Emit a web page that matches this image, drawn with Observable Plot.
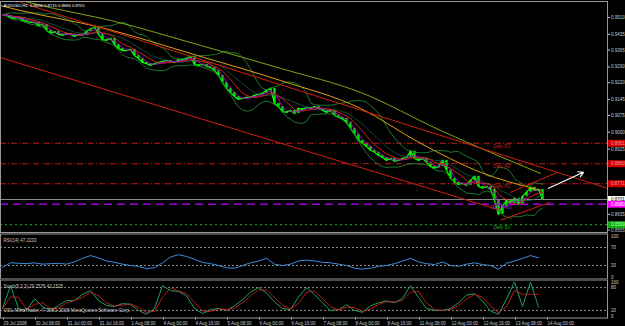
<!DOCTYPE html>
<html><head><meta charset="utf-8">
<script src="https://cdn.jsdelivr.net/npm/d3@7"></script>
<script src="https://cdn.jsdelivr.net/npm/@observablehq/plot@0.6"></script>
<style>
html,body{margin:0;padding:0;background:#000;}
#wrap{position:relative;width:625px;height:326px;background:#000;overflow:hidden;}
#wrap > div{position:absolute;left:0;}
svg{display:block;}
</style></head><body>
<div id="wrap"><div id="main" style="top:0"></div><div id="rsi" style="top:233px"></div><div id="sto" style="top:279px"></div></div>
<script>
// ---- data (H1 AUDUSD, sampled every 2 hours) ----
const title = "AUDUSD,H1  0.8696 0.8715 0.8686 0.8701";
const closes = [
0.9523,0.9519,0.9510,0.9506,0.9510,0.9497,0.9492,0.9488,0.9488,0.9475,
0.9479,0.9452,0.9439,0.9448,0.9435,0.9430,0.9439,0.9435,0.9426,0.9435,
0.9430,0.9448,0.9461,0.9466,0.9435,0.9412,0.9408,0.9417,0.9390,0.9372,
0.9363,0.9363,0.9368,0.9341,0.9328,0.9310,0.9305,0.9297,0.9305,0.9310,
0.9314,0.9319,0.9314,0.9310,0.9323,0.9319,0.9328,0.9337,0.9301,0.9297,
0.9301,0.9292,0.9288,0.9275,0.9253,0.9221,0.9195,0.9177,0.9159,0.9146,
0.9150,0.9155,0.9155,0.9164,0.9168,0.9173,0.9186,0.9195,0.9128,0.9114,
0.9092,0.9088,0.9097,0.9083,0.9106,0.9101,0.9110,0.9106,0.9114,0.9106,
0.9097,0.9088,0.9097,0.9075,0.9066,0.9061,0.9044,0.9017,0.8991,0.8964,
0.8951,0.8937,0.8920,0.8911,0.8897,0.8888,0.8875,0.8884,0.8871,0.8875,
0.8884,0.8888,0.8915,0.8884,0.8875,0.8884,0.8866,0.8848,0.8840,0.8848,
0.8875,0.8831,0.8795,0.8777,0.8768,0.8773,0.8764,0.8786,0.8804,0.8759,
0.8751,0.8759,0.8746,0.8697,0.8635,0.8671,0.8697,0.8684,0.8706,0.8680,
0.8715,0.8733,0.8755,0.8742,0.8746,0.8701];
const orangeIdx = [-0.5, 4.5, 24.5, 48.75, 69.5, 89.5, 104.5, 119.5, 134.5];
const orangeVals = [0.9563, 0.9541, 0.9466, 0.9341, 0.9230, 0.9106, 0.8951, 0.8822, 0.8742];
const oliveIdx = [4.5, 12, 27, 49.5, 69.5, 89.5, 109.5, 134.5];
const oliveVals = [0.9586, 0.9554, 0.9497, 0.9386, 0.9284, 0.9177, 0.9008, 0.8817];
const trendNames = ["upper", "lower", "upA", "upB"];
const trendX1 = [4.5, -0.5, 124.5, 127];
const trendY1 = [0.9577, 0.9332, 0.8609, 0.8733];
const trendX2 = [151.25, 124.5, 137, 138.75];
const trendY2 = [0.8751, 0.8653, 0.8689, 0.8822];
const arrowX = [136.5, 145.25];
const arrowY = [0.8751, 0.8822];
const pivotNames = ["Daily R3", "Daily R2", "Daily R1", "Daily Pivot", "Daily S1"];
const pivotValues = [0.8951, 0.8860, 0.8771, 0.8680, 0.8589];
const lastPrice = 0.8701;
const priceTicks = [0.9510,0.9435,0.9365,0.9290,0.9220,0.9145,0.9075,0.9000,0.8925,0.8855,0.8780,0.8705,0.8635,0.8565];
const rsiLabel = "RSI(14) 47.2233";
const rsiVals = [26,36,35,34,36,33,34,35,33,38,46,52,47,40,37,33,30,28,23,25,
36,49,54,50,44,37,34,30,25,24,30,36,40,46,33,30,33,40,42,40,
37,36,33,30,24,22,24,28,30,34,40,46,38,34,32,38,30,28,33,36,
32,30,22,35,40,46,52,47];
const rsiLevels = [70, 30];
const stochLabel = "Stoch(5,3,3) 29.2576 42.1525";
const stochVals = [25,85,25,20,51,30,20,33,46,46,62,72,46,33,30,38,36,20,10,25,
85,72,70,58,25,12,22,25,20,32,48,68,80,66,42,25,22,55,80,62,
40,20,22,35,20,15,32,40,45,40,52,85,54,25,20,20,25,40,60,64,
45,18,10,50,95,30,95,29];
const stochLevels = [80, 20];
const copyright = "ODL MetaTrader, \u00a9 2001-2008 MetaQuotes Software Corp.";
const xLabelIdx = [0,8,16,24,32,40,48,56,64,72,80,88,96,104,112,120,128,136];
const xLabels = ["29 Jul 2008","30 Jul 08:00","31 Jul 00:00","31 Jul 16:00","1 Aug 08:00","4 Aug 00:00","4 Aug 16:00","5 Aug 08:00","6 Aug 00:00","6 Aug 16:00","7 Aug 08:00","8 Aug 00:00","8 Aug 16:00","11 Aug 08:00","12 Aug 00:00","12 Aug 16:00","13 Aug 08:00","14 Aug 00:00"];

// ---- derived tables ----
const bars = closes.map((c, i) => ({i, open: i ? closes[i - 1] : c, close: c}));
const orange = orangeIdx.map((x, k) => ({x, y: orangeVals[k]}));
const olive = oliveIdx.map((x, k) => ({x, y: oliveVals[k]}));
const trends = trendNames.map((n, k) => ({n, x1: trendX1[k], y1: trendY1[k], x2: trendX2[k], y2: trendY2[k]}));
const arrow = [{x1: arrowX[0], y1: arrowY[0], x2: arrowX[1], y2: arrowY[1]}];
const pivots = pivotNames.map((n, k) => ({n, v: pivotValues[k]}));
const rsi = rsiVals.map((v, k) => ({i: 2 * k, v}));
const stoch = stochVals.map((v, k) => ({i: 2 * k, v}));
const xLabelMap = new Map(xLabelIdx.map((d, k) => [d, xLabels[k]]));

// ---- styles ----
const FONT = "Liberation Sans, Arial, sans-serif";
const AX = "#c8c8c8";
const GRID = "#9a9a9a";
const X = {domain: [-0.5, 151.25], range: [0, 607], axis: null};
const XR = 151.25;
const pivotStroke = {"Daily R3": "#c01818", "Daily R2": "#c01818", "Daily R1": "#c01818", "Daily Pivot": "#a000d8", "Daily S1": "#18b018"};
const pivotText = {"Daily R3": "#c02020", "Daily R2": "#c02020", "Daily R1": "#c02020", "Daily Pivot": "#9020c0", "Daily S1": "#20b020"};
const boxes = [
  {v: pivotValues[0], bg: "#d00000", fg: "#ff9a9a"},
  {v: pivotValues[1], bg: "#d00000", fg: "#ff9a9a"},
  {v: pivotValues[2], bg: "#d00000", fg: "#ff9a9a"},
  {v: lastPrice, bg: "#ffffff", fg: "#000000"},
  {v: pivotValues[3], bg: "#ff00ff", fg: "#ffffff"},
  {v: pivotValues[4], bg: "#10b010", fg: "#b0ffb0"}
];
// price labels covered by a highlighted box are not shown (as in the terminal)
const visibleTicks = priceTicks.filter(t => !boxes.some(b => Math.abs(b.v - t) < 0.0018));
const baseStyle = {background: "#000", fontFamily: FONT, fontSize: "4.5px", overflow: "visible"};

const mainPlot = Plot.plot({
  width: 625, height: 233, marginLeft: 0, marginRight: 18, marginTop: 1, marginBottom: 1,
  style: baseStyle,
  x: X,
  y: {domain: [0.8565, 0.9510], range: [229.6, 17], axis: null},
  marks: [
    Plot.ruleX(bars, {x: "i", y1: "open", y2: "close", stroke: "#00e800", strokeWidth: 2.4}),
    Plot.lineY(bars, {x: "i", y: "close", stroke: "#00ff00", strokeWidth: 1.3}),
    Plot.ruleY([lastPrice], {stroke: "#8a8a8a", strokeWidth: 1}),
    Plot.ruleY(pivots.filter(d => d.n.includes("R")), {y: "v", stroke: d => pivotStroke[d.n], strokeDasharray: "6,2,1,2", strokeWidth: 1}),
    Plot.ruleY(pivots.filter(d => d.n === "Daily Pivot"), {y: "v", stroke: d => pivotStroke[d.n], strokeDasharray: "8,5", strokeWidth: 1.6}),
    Plot.ruleY(pivots.filter(d => d.n === "Daily S1"), {y: "v", stroke: d => pivotStroke[d.n], strokeDasharray: "2,3", strokeWidth: 1}),
    Plot.lineY(bars, Plot.windowY({k: 10, anchor: "end", reduce: v => d3.mean(v) + 2 * (d3.deviation(v) || 0)}, {x: "i", y: "close", stroke: "#1c7a30", strokeWidth: 1, clip: true})),
    Plot.lineY(bars, Plot.windowY({k: 10, anchor: "end", reduce: v => d3.mean(v) - 2 * (d3.deviation(v) || 0)}, {x: "i", y: "close", stroke: "#1c7a30", strokeWidth: 1, clip: true})),
    Plot.lineY(bars, Plot.windowY({k: 10, anchor: "end"}, {x: "i", y: "close", stroke: "#1c6a50", strokeWidth: 0.8, strokeDasharray: "1,1", clip: true})),
    Plot.lineY(bars, Plot.windowY({k: 6, anchor: "end"}, {x: "i", y: "close", stroke: "#e02020", strokeWidth: 1, clip: true})),
    Plot.lineY(bars, Plot.windowY({k: 3, anchor: "end"}, {x: "i", y: "close", stroke: "#b000d0", strokeWidth: 1, clip: true})),
    Plot.line(olive, {x: "x", y: "y", curve: "monotone-x", stroke: "#7fa814", strokeWidth: 1, clip: true}),
    Plot.line(orange, {x: "x", y: "y", curve: "monotone-x", stroke: "#e0a010", strokeWidth: 1, clip: true}),
    Plot.link(trends, {x1: "x1", y1: "y1", x2: "x2", y2: "y2", stroke: "#d02010", strokeWidth: 1, clip: true}),
    Plot.arrow(arrow, {x1: "x1", y1: "y1", x2: "x2", y2: "y2", stroke: "#ffffff", strokeWidth: 1.2, headLength: 7}),
    Plot.text(pivots, {x: 124.75, y: "v", text: "n", fill: d => pivotText[d.n], textAnchor: "middle", lineAnchor: "top", dy: 1.5, fontSize: 4.5}),
    Plot.ruleX([XR], {stroke: GRID}),
    Plot.ruleY(priceTicks, {x1: XR, x2: XR + 0.75, stroke: AX}),
    Plot.text(visibleTicks, {x: XR, y: d => d, text: d => d.toFixed(4), textAnchor: "start", dx: 3.5, fill: AX, fontSize: 4.5}),
    Plot.ruleY(boxes, {y: "v", x1: XR, x2: XR + 4.6, stroke: "bg", strokeWidth: 7}),
    Plot.text(boxes, {x: XR, y: "v", text: d => d.v.toFixed(4), fill: "fg", textAnchor: "start", dx: 3.5, fontSize: 4.5}),
    Plot.text([title], {frameAnchor: "top-left", dx: 3, dy: 2.5, lineAnchor: "top", fill: "#ffffff", fontSize: 4.2}),
    Plot.frame({stroke: GRID})
  ]
});
document.getElementById("main").append(mainPlot);

const rsiPlot = Plot.plot({
  width: 625, height: 46, marginLeft: 0, marginRight: 18, marginTop: 0.5, marginBottom: 0.5,
  style: baseStyle,
  x: X,
  y: {domain: [0, 100], range: [45.5, 0.5], axis: null},
  marks: [
    Plot.ruleY(rsiLevels, {stroke: "#8a8a8a", strokeDasharray: "2,2", clip: true}),
    Plot.lineY(rsi, {x: "i", y: "v", stroke: "#3c8ee0", strokeWidth: 1}),
    Plot.text([rsiLabel], {frameAnchor: "top-left", dx: 3, dy: 5, lineAnchor: "top", fill: AX, fontSize: 4.5}),
    Plot.text([100], {x: XR, y: d => d, text: d => String(d), textAnchor: "start", lineAnchor: "top", dx: 3.5, dy: 1, fill: AX, fontSize: 4.5}),
    Plot.text(rsiLevels, {x: XR, y: d => d, text: d => String(d), textAnchor: "start", dx: 3.5, fill: AX, fontSize: 4.5}),
    Plot.text([0], {x: XR, y: d => d, text: d => String(d), textAnchor: "start", lineAnchor: "bottom", dx: 3.5, dy: -0.5, fill: AX, fontSize: 4.5}),
    Plot.frame({stroke: GRID})
  ]
});
document.getElementById("rsi").append(rsiPlot);

const stoPlot = Plot.plot({
  width: 625, height: 47, marginLeft: 0, marginRight: 18, marginTop: 0.5, marginBottom: 8.5,
  style: baseStyle,
  x: X,
  y: {domain: [0, 100], range: [38.5, 0.5], axis: null},
  marks: [
    Plot.ruleY(stochLevels, {stroke: "#8a8a8a", strokeDasharray: "2,2"}),
    Plot.lineY(stoch, {x: "i", y: "v", stroke: "#1aa060", strokeWidth: 1, clip: true}),
    Plot.lineY(stoch, Plot.windowY({k: 2, anchor: "end"}, {x: "i", y: "v", stroke: "#e02020", strokeWidth: 1, strokeDasharray: "1.2,1.2", clip: true})),
    Plot.text([stochLabel], {frameAnchor: "top-left", dx: 3, dy: 5, lineAnchor: "top", fill: AX, fontSize: 4.5}),
    Plot.text([copyright], {frameAnchor: "bottom-left", dx: 3, dy: -6, lineAnchor: "bottom", fill: AX, fontSize: 4.8}),
    Plot.text([100], {x: XR, y: d => d, text: d => String(d), textAnchor: "start", lineAnchor: "top", dx: 3.5, dy: 1, fill: AX, fontSize: 4.5}),
    Plot.text(stochLevels, {x: XR, y: d => d, text: d => String(d), textAnchor: "start", dx: 3.5, fill: AX, fontSize: 4.5}),
    Plot.text([0], {x: XR, y: d => d, text: d => String(d), textAnchor: "start", lineAnchor: "bottom", dx: 3.5, dy: -0.5, fill: AX, fontSize: 4.5}),
    Plot.axisX({ticks: xLabelIdx, tickFormat: d => xLabelMap.get(d), anchor: "bottom", tickSize: 2, tickPadding: 1.5, textAnchor: "start", dx: 1, color: AX, fontSize: 4.5, label: null}),
    Plot.frame({stroke: GRID})
  ]
});
document.getElementById("sto").append(stoPlot);
</script>
</body></html>
